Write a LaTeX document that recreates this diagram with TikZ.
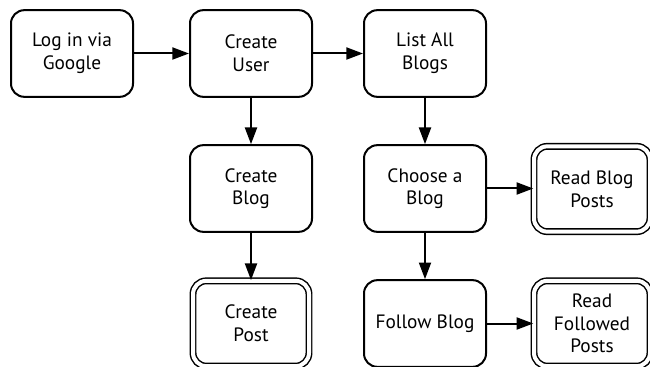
\documentclass[tikz,border=0pt]{standalone}
\usepackage{fontspec}
\setmainfont{PT Sans}
\usetikzlibrary{arrows.meta}
\begin{document}
\begin{tikzpicture}[x=0.75pt,y=-0.75pt,
  box/.style={draw, line width=1.5pt, rounded corners=10pt, minimum width=91.5pt, minimum height=65pt, inner sep=0pt, align=center, font=\fontsize{14.5}{17}\selectfont},
  endbox/.style={draw, double, double distance=3pt, line width=1.1pt, rounded corners=10pt, minimum width=87pt, minimum height=64pt, inner sep=0pt, align=center, font=\fontsize{14.5}{17}\selectfont},
  arr/.style={line width=1.5pt, -{Triangle[length=12.5pt,width=9pt]}}]
\clip (0,0) rectangle (650,367);
\useasboundingbox (0,0) rectangle (650,367);
\node[box] (login) at (72,53.5) {Log in via\\Google};
\node[box] (user) at (251,53.5) {Create\\User};
\node[box] (list) at (425,53.5) {List All\\Blogs};
\node[box] (cblog) at (251,188.5) {Create\\Blog};
\node[box] (choose) at (425,188.5) {Choose a\\Blog};
\node[endbox] (read) at (592,189) {Read Blog\\Posts};
\node[endbox] (post) at (251,323.5) {Create\\Post};
\node[box] (follow) at (425,323.5) {Follow Blog};
\node[endbox] (readf) at (592,323.5) {Read\\Followed\\Posts};
\draw[arr] (login) -- (user);
\draw[arr] (user) -- (list);
\draw[arr] (user) -- (cblog);
\draw[arr] (list) -- (choose);
\draw[arr] (cblog) -- (post);
\draw[arr] (choose) -- (follow);
\draw[arr] (choose.east) -- (read.west |- choose.east);
\draw[arr] (follow.east) -- (readf.west |- follow.east);
\end{tikzpicture}
\end{document}
